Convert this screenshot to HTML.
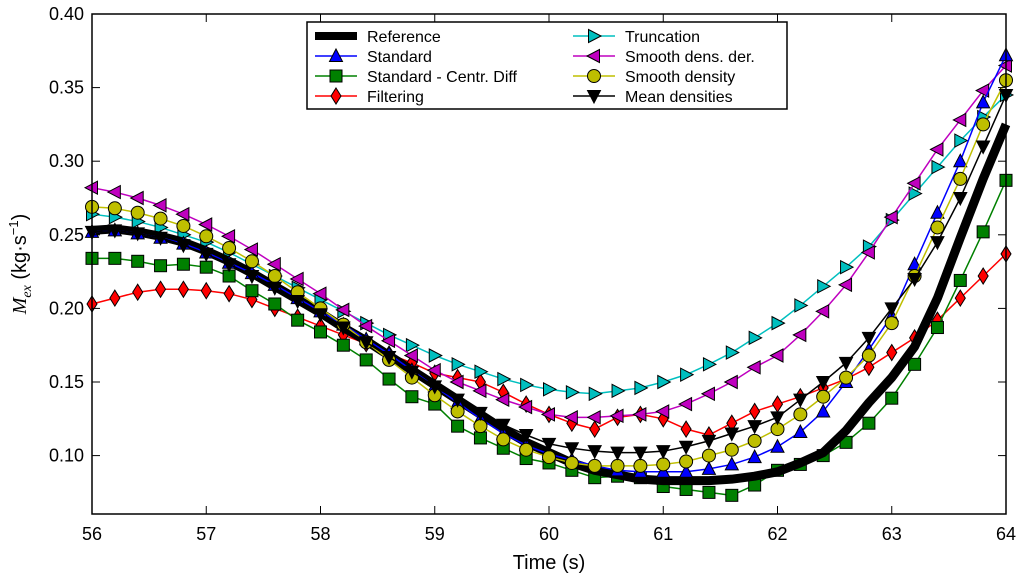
<!DOCTYPE html>
<html><head><meta charset="utf-8"><style>
body{margin:0;background:#fff;}
svg{display:block;font-family:"Liberation Sans","DejaVu Sans",sans-serif;}
</style></head><body>
<svg id="chart" width="1024" height="577" viewBox="0 0 1024 577" xmlns="http://www.w3.org/2000/svg">
<g id="marks"></g>
<rect x="92" y="14" width="914" height="500" fill="none" stroke="#000" stroke-width="1.5"/>
<g id="axes"></g>
<text x="549" y="569" font-size="20" text-anchor="middle">Time (s)</text>
<text transform="translate(26,264) rotate(-90)" font-size="20" text-anchor="middle"><tspan font-family="Liberation Serif,serif" font-style="italic">M</tspan><tspan font-family="Liberation Serif,serif" font-style="italic" font-size="14" dy="5">ex</tspan><tspan dy="-5"> (kg·s</tspan><tspan font-size="13" dy="-8">−1</tspan><tspan dy="8">)</tspan></text>
<g id="legend"></g>
</svg>
<script>
const times=[];for(let i=0;i<=40;i++)times.push(56+i*0.2);
const reference=[.253,.254,.252,.249,.245,.239,.232,.224,.215,.206,.197,.187,.178,.168,.158,.148,.138,.128,.118,.109,.102,.095,.090,.087,.084,.083,.083,.083,.084,.086,.089,.095,.102,.117,.136,.153,.174,.207,.248,.288,.325];
const standard=[.252,.253,.251,.248,.244,.238,.231,.224,.216,.207,.198,.189,.179,.169,.158,.147,.136,.125,.115,.107,.101,.097,.093,.090,.089,.089,.089,.091,.094,.099,.106,.116,.130,.150,.172,.195,.230,.265,.300,.340,.372];
const centrDiff=[.234,.234,.232,.229,.230,.228,.222,.212,.203,.192,.184,.175,.165,.152,.140,.135,.120,.112,.105,.098,.095,.090,.085,.086,.085,.079,.077,.075,.073,.080,.090,.094,.100,.109,.122,.139,.162,.187,.219,.252,.287];
const filtering=[.203,.207,.211,.213,.213,.212,.210,.206,.200,.194,.188,.182,.176,.169,.163,.156,.153,.150,.143,.135,.128,.122,.118,.126,.128,.125,.118,.114,.122,.130,.135,.140,.146,.152,.160,.170,.180,.192,.207,.222,.237];
const truncation=[.264,.262,.259,.255,.250,.245,.238,.230,.222,.214,.206,.198,.190,.182,.175,.168,.162,.157,.152,.148,.145,.143,.142,.144,.146,.150,.155,.162,.170,.180,.190,.202,.215,.228,.242,.260,.278,.296,.314,.330,.345];
const smoothDer=[.282,.279,.275,.270,.264,.257,.249,.240,.230,.220,.210,.199,.188,.178,.168,.158,.150,.144,.138,.133,.128,.126,.126,.127,.128,.130,.135,.142,.150,.160,.168,.182,.198,.216,.238,.262,.285,.308,.328,.348,.365];
const smoothDens=[.269,.268,.265,.261,.256,.249,.241,.232,.222,.211,.200,.189,.177,.165,.153,.141,.130,.120,.111,.104,.099,.095,.093,.093,.093,.094,.096,.100,.104,.110,.118,.128,.140,.153,.168,.190,.222,.255,.288,.325,.355];
const meanDens=[.252,.253,.251,.248,.243,.237,.230,.222,.214,.205,.196,.187,.177,.167,.157,.147,.138,.129,.121,.114,.108,.105,.103,.102,.102,.103,.106,.110,.115,.120,.126,.138,.150,.163,.180,.200,.220,.245,.275,.310,.345];
const xTicks=[56,57,58,59,60,61,62,63,64];
const yTicks=[0.10,0.15,0.20,0.25,0.30,0.35,0.40];
const legendLabels=["Reference","Standard","Standard - Centr. Diff","Filtering","Truncation","Smooth dens. der.","Smooth density","Mean densities"];

const X=t=>92+(t-56)*114.25;
const Y=v=>14+(0.40-v)*1472;
const NS="http://www.w3.org/2000/svg";
function mk(tag,attrs,parent){const e=document.createElementNS(NS,tag);for(const k in attrs)e.setAttribute(k,attrs[k]);parent.appendChild(e);return e;}
function marker(g,type,x,y,color){
  let e;
  if(type==='sq')e=mk('rect',{x:x-6,y:y-6,width:12,height:12},g);
  else if(type==='circ')e=mk('circle',{cx:x,cy:y,r:6.5},g);
  else{let p;
    if(type==='up')p=[[0,-7],[6.5,5.5],[-6.5,5.5]];
    if(type==='down')p=[[0,7],[6.5,-5.5],[-6.5,-5.5]];
    if(type==='right')p=[[7,0],[-5.5,6.5],[-5.5,-6.5]];
    if(type==='left')p=[[-7,0],[5.5,6.5],[5.5,-6.5]];
    if(type==='dia')p=[[0,-8],[5,0],[0,8],[-5,0]];
    e=mk('polygon',{points:p.map(q=>(x+q[0])+','+(y+q[1])).join(' ')},g);}
  e.setAttribute('fill',color);e.setAttribute('stroke','#000');e.setAttribute('stroke-width','1');
  return e;
}
const series=[
 {vals:filtering,color:'#ff0000',m:'dia',name:'filtering',label:3},
 {vals:truncation,color:'#00bfbf',m:'right',name:'truncation',label:4},
 {vals:smoothDer,color:'#bf00bf',m:'left',name:'smooth-dens-der',label:5},
 {vals:centrDiff,color:'#008000',m:'sq',name:'standard-centr-diff',label:2},
 {vals:reference,color:'#000',m:null,name:'reference',label:0},
 {vals:standard,color:'#0000ff',m:'up',name:'standard',label:1},
 {vals:smoothDens,color:'#bfbf00',m:'circ',name:'smooth-density',label:6},
 {vals:meanDens,color:'#000',m:'down',name:'mean-densities',label:7}
];
const marks=document.getElementById('marks');
series.forEach(s=>{
  const g=mk('g',{},marks);
  
  
  const pts=s.vals.map((v,i)=>X(times[i])+','+Y(v)).join(' ');
  const line=mk('polyline',{points:pts,fill:'none',stroke:s.color,'stroke-width':s.m?1.5:9,'stroke-linejoin':'round'},g);
  
  
  if(s.m)s.vals.forEach((v,i)=>{const e=marker(g,s.m,X(times[i]),Y(v),s.color);
    
    });
});
const axes=document.getElementById('axes');
xTicks.forEach(t=>{
  const x=X(t);
  mk('line',{x1:x,x2:x,y1:514,y2:506,stroke:'#000'},axes);
  mk('line',{x1:x,x2:x,y1:14,y2:22,stroke:'#000'},axes);
  const tx=mk('text',{x:x,y:540,'font-size':18,'text-anchor':'middle'},axes);
  tx.textContent=t;
  
  
});
yTicks.forEach(v=>{
  const y=Y(v);
  mk('line',{x1:92,x2:100,y1:y,y2:y,stroke:'#000'},axes);
  mk('line',{x1:1006,x2:998,y1:y,y2:y,stroke:'#000'},axes);
  const tx=mk('text',{x:84,y:y+6,'font-size':18,'text-anchor':'end'},axes);
  tx.textContent=v.toFixed(2);
  
  
});
const lg=document.getElementById('legend');
mk('rect',{x:307,y:22,width:480,height:87,fill:'#fff',stroke:'#000','stroke-width':1.5},lg);
const order=[4,5,3,0,1,2,6,7];
order.forEach((si,k)=>{
  const s=series[si];const col=k<4?0:1;const row=k%4;
  const x0=col?573:315,y=36+row*20;
  const g=mk('g',{},lg);
  
  
  mk('line',{x1:x0,x2:x0+42,y1:y,y2:y,stroke:s.color,'stroke-width':s.m?1.5:8},g);
  if(s.m)marker(g,s.m,x0+21,y,s.color);
  const tx=mk('text',{x:x0+52,y:y+6,'font-size':16},g);
  tx.textContent=legendLabels[s.label];
});
</script>
</body></html>
